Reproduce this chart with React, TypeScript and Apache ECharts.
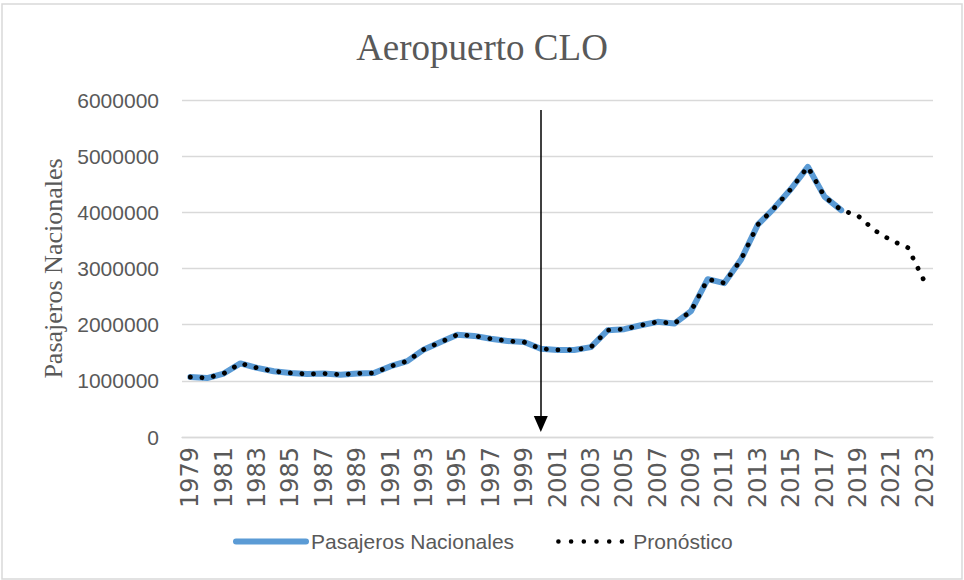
import React, { useEffect, useRef } from "react";
import * as echarts from "echarts";

const years: string[] = [
  "1979", "1980", "1981", "1982", "1983", "1984", "1985", "1986", "1987", "1988",
  "1989", "1990", "1991", "1992", "1993", "1994", "1995", "1996", "1997", "1998",
  "1999", "2000", "2001", "2002", "2003", "2004", "2005", "2006", "2007", "2008",
  "2009", "2010", "2011", "2012", "2013", "2014", "2015", "2016", "2017", "2018",
  "2019", "2020", "2021", "2022", "2023",
];

// Pasajeros Nacionales 1979–2018
const nacionales: number[] = [
  1068000, 1050000, 1130000, 1310000, 1230000, 1170000, 1140000, 1120000, 1130000, 1110000,
  1130000, 1140000, 1260000, 1350000, 1560000, 1690000, 1820000, 1800000, 1750000, 1710000,
  1690000, 1570000, 1550000, 1550000, 1600000, 1900000, 1920000, 1990000, 2050000, 2020000,
  2240000, 2810000, 2740000, 3160000, 3780000, 4080000, 4420000, 4810000, 4280000, 4040000,
];

// Pronóstico 2019–2023
const pronosticoFuturo: number[] = [3940000, 3680000, 3500000, 3370000, 2760000];

const yTicks = { min: 0, max: 6000000, interval: 1000000 };

const arrowYear = "2000";
const arrowTop = 5820000;
const arrowBottom = 230000;

const BLUE = "#5b9bd5";
const DOT_DASH = [0.1, 11.5];

export default function App() {
  const ref = useRef<HTMLDivElement>(null);

  useEffect(() => {
    if (!ref.current) return;
    const chart = echarts.init(ref.current, null, { renderer: "svg" });
    const pronostico = nacionales.concat(pronosticoFuturo);

    chart.setOption({
      animation: false,
      backgroundColor: "#ffffff",
      title: {
        text: "Aeropuerto CLO",
        left: "center",
        top: 24,
        textStyle: {
          fontFamily: "Liberation Serif",
          fontSize: 37,
          fontWeight: "normal",
          color: "#595959",
        },
      },
      graphic: [
        {
          type: "rect",
          shape: { x: 2, y: 4, width: 960, height: 575 },
          style: { fill: "none", stroke: "#d9d9d9", lineWidth: 1.5 },
          silent: true,
        },
      ],
      legend: {
        left: 233,
        top: 531,
        padding: 0,
        itemWidth: 70,
        itemHeight: 14,
        itemGap: 42,
        textStyle: {
          fontFamily: "Liberation Sans",
          fontSize: 21,
          color: "#595959",
        },
        data: [
          {
            name: "Pasajeros Nacionales",
            itemStyle: { color: "rgba(0,0,0,0)", borderWidth: 0 },
            lineStyle: { color: BLUE, width: 6, cap: "round", type: "solid" },
          },
          {
            name: "Pronóstico",
            itemStyle: { color: "rgba(0,0,0,0)", borderWidth: 0 },
            lineStyle: { color: "#000000", width: 4.5, cap: "round", type: [0.1, 12.6] },
          },
        ],
      },
      grid: { left: 182, right: 31, top: 100, bottom: 143, containLabel: false },
      xAxis: {
        type: "category",
        data: years,
        boundaryGap: true,
        axisLine: { lineStyle: { color: "#d9d9d9", width: 1.3 } },
        axisTick: { show: false },
        axisLabel: {
          interval: 1,
          rotate: 90,
          margin: 10,
          fontFamily: "DejaVu Sans",
          fontSize: 24,
          color: "#595959",
        },
      },
      yAxis: {
        type: "value",
        min: yTicks.min,
        max: yTicks.max,
        interval: yTicks.interval,
        name: "Pasajeros Nacionales",
        nameLocation: "middle",
        nameGap: 112,
        nameTextStyle: {
          fontFamily: "Liberation Serif",
          fontSize: 26,
          color: "#595959",
        },
        axisLine: { show: false },
        axisTick: { show: false },
        splitLine: { lineStyle: { color: "#d9d9d9", width: 1.3 } },
        axisLabel: {
          margin: 23,
          fontFamily: "Liberation Sans",
          fontSize: 21,
          color: "#595959",
          formatter: (v: number) => String(v),
        },
      },
      series: [
        {
          name: "Pasajeros Nacionales",
          type: "line",
          data: nacionales,
          symbol: "none",
          color: BLUE,
          lineStyle: { color: BLUE, width: 6, cap: "round", join: "round" },
          z: 2,
        },
        {
          name: "Pronóstico",
          type: "line",
          data: pronostico,
          symbol: "none",
          color: "#000000",
          lineStyle: {
            color: "#000000",
            width: 4.8,
            type: DOT_DASH,
            cap: "round",
            join: "round",
          },
          z: 3,
          markLine: {
            silent: true,
            symbol: ["none", "triangle"],
            symbolSize: [14, 16],
            label: { show: false },
            lineStyle: { color: "#000000", width: 1.5, type: "solid", cap: "butt" },
            itemStyle: { color: "#000000" },
            emphasis: { disabled: true },
            data: [
              [
                { xAxis: arrowYear, yAxis: arrowTop },
                { xAxis: arrowYear, yAxis: arrowBottom },
              ],
            ],
          },
        },
      ],
    });

    return () => chart.dispose();
  }, []);

  return (
    <div
      ref={ref}
      style={{ position: "fixed", left: 0, top: 0, width: 964, height: 580 }}
    />
  );
}
